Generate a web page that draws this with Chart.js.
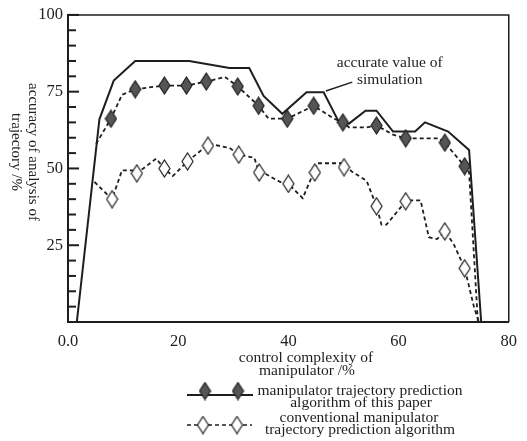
<!DOCTYPE html>
<html>
<head>
<meta charset="utf-8">
<script src="https://cdn.jsdelivr.net/npm/chart.js@4/dist/chart.umd.min.js"></script>
<style>
  body { margin: 0; background: #fff; }
  canvas { display: block; }
</style>
</head>
<body>
<canvas id="chart" width="527" height="441"></canvas>
<script>
// --- Data ---

// accurate value of simulation (solid line)
const accX = [1.6, 5.7, 8.3, 12.2, 22.0, 29.3, 32.9, 35.5, 38.9, 43.3, 46.4, 49.2, 51.0, 54.0, 56.0, 59.0, 63.0, 64.8, 69.0, 72.8, 75.0];
const accY = [0, 66.0, 78.6, 85.0, 85.0, 82.7, 82.7, 73.6, 67.8, 74.8, 74.8, 65.0, 64.6, 68.8, 68.8, 62.0, 62.0, 65.0, 62.0, 56.0, 0];

// algorithm of this paper (dashed line + filled diamonds)
const paperX = [5.1, 7.8, 9.8, 12.2, 17.5, 21.5, 25.1, 28.5, 30.8, 34.6, 36.4, 39.8, 44.6, 48.3, 49.9, 51.0, 54.2, 56.0, 59.0, 61.3, 67.3, 68.4, 72.0, 72.8, 74.4];
const paperY = [58.0, 66.2, 74.0, 75.8, 77.0, 77.0, 78.3, 79.8, 76.7, 70.4, 66.2, 66.2, 70.4, 66.2, 65.0, 63.4, 63.4, 64.0, 61.0, 59.8, 59.8, 58.4, 50.7, 48.8, 0];
const paperMarkX = [7.8, 12.2, 17.5, 21.5, 25.1, 30.8, 34.6, 39.8, 44.6, 49.9, 56.0, 61.3, 68.4, 72.0];
const paperMarkY = [66.2, 75.8, 77.0, 77.0, 78.3, 76.7, 70.4, 66.2, 70.4, 65.0, 64.0, 59.8, 58.4, 50.7];

// conventional algorithm (dashed line + open diamonds)
const convX = [4.8, 8.0, 9.8, 11.6, 12.5, 16.0, 17.5, 19.0, 21.7, 25.6, 29.3, 31.0, 33.8, 34.7, 35.9, 38.5, 40.0, 42.6, 45.3, 50.1, 51.5, 54.2, 56.0, 56.9, 57.8, 61.3, 62.2, 64.0, 65.5, 67.0, 68.4, 70.0, 72.0, 73.7, 74.6];
const convY = [45.6, 40.0, 49.4, 49.4, 48.4, 53.2, 50.0, 47.5, 52.3, 58.0, 56.7, 54.5, 53.5, 48.7, 48.2, 45.6, 45.0, 40.3, 51.7, 51.7, 49.0, 46.0, 37.7, 31.7, 31.7, 39.3, 39.6, 39.6, 27.6, 27.0, 29.5, 25.4, 17.5, 4.8, 0];
const convMarkX = [8.0, 12.5, 17.5, 21.7, 25.4, 31.0, 34.7, 40.0, 44.8, 50.1, 56.0, 61.3, 68.4, 72.0];
const convMarkY = [40.0, 48.4, 50.0, 52.3, 57.4, 54.5, 48.7, 45.0, 48.7, 50.4, 37.7, 39.3, 29.5, 17.5];

// axes
const xTicks = [0, 20, 40, 60, 80];
const yLabelled = [25, 50, 75, 100];

// texts
const yTitle = ['accuracy of analysis of', 'trajectory /%'];
const xTitle = ['control complexity of', 'manipulator /%'];
const legendPaper = ['manipulator trajectory prediction', 'algorithm of this paper'];
const legendConv = ['conventional manipulator', 'trajectory prediction algorithm'];
const noteText = ['accurate value of', 'simulation'];
const notePos = [58.4, 84.4];            // text anchor (data units)
const noteLeader = [[46.8, 75.2], [51.6, 78.1]];

const pts = (xs, ys) => xs.map((x, i) => ({ x: x, y: ys[i] }));

// --- Diamond markers (tall, narrow) ---
function diamond(fill) {
    const c = document.createElement('canvas');
    c.width = 13; c.height = 19;
    const g = c.getContext('2d');
    g.beginPath();
    g.moveTo(6.5, 1); g.lineTo(12, 9.5); g.lineTo(6.5, 18); g.lineTo(1, 9.5);
    g.closePath();
    g.fillStyle = fill; g.fill();
    g.lineWidth = 1.2; g.strokeStyle = '#1e1e1e'; g.stroke();
    return c;
}
const filledDiamond = diamond('#555555');
const openDiamond = diamond('#ffffff');

const SERIF = '"Liberation Serif", "Times New Roman", serif';
const INK = '#1e1e1e';

// --- Extra drawing: frame, inner ticks, titles, note, legend ---
const decor = {
    id: 'decor',
    afterDraw(chart) {
        const { ctx, chartArea: a, scales: { x, y } } = chart;
        ctx.save();
        ctx.strokeStyle = INK;
        ctx.fillStyle = INK;

        // top + right frame
        ctx.lineWidth = 1.5;
        ctx.beginPath();
        ctx.moveTo(a.left, a.top);
        ctx.lineTo(a.right, a.top);
        ctx.lineTo(a.right, a.bottom);
        ctx.stroke();

        // inward y ticks
        ctx.lineWidth = 2;
        y.ticks.forEach(t => {
            const py = y.getPixelForValue(t.value);
            const len = t.value % 25 === 0 ? 11 : 8;
            ctx.beginPath();
            ctx.moveTo(a.left, py);
            ctx.lineTo(a.left + len, py);
            ctx.stroke();
        });

        // y title, rotated clockwise
        ctx.font = '15px ' + SERIF;
        ctx.textAlign = 'center';
        ctx.textBaseline = 'middle';
        ctx.save();
        ctx.translate(33, 152);
        ctx.rotate(Math.PI / 2);
        ctx.fillText(yTitle[0], 0, 0);
        ctx.fillText(yTitle[1], 0, 17);
        ctx.restore();

        // x title
        ctx.font = '15.5px ' + SERIF;
        ctx.fillText(xTitle[0], 306, 358);
        ctx.fillText(xTitle[1], 307, 371);

        // annotation
        ctx.lineWidth = 1.5;
        ctx.beginPath();
        ctx.moveTo(x.getPixelForValue(noteLeader[0][0]), y.getPixelForValue(noteLeader[0][1]));
        ctx.lineTo(x.getPixelForValue(noteLeader[1][0]), y.getPixelForValue(noteLeader[1][1]));
        ctx.stroke();
        const nx = x.getPixelForValue(notePos[0]);
        const ny = y.getPixelForValue(notePos[1]);
        ctx.fillText(noteText[0], nx, ny);
        ctx.fillText(noteText[1], nx, ny + 17);

        // legend
        ctx.fillText(legendPaper[0], 360, 391);
        ctx.fillText(legendPaper[1], 361, 403);
        ctx.fillText(legendConv[0], 359, 418);
        ctx.fillText(legendConv[1], 360, 430);

        ctx.lineWidth = 2;
        ctx.beginPath();
        ctx.moveTo(187, 395); ctx.lineTo(253, 395);
        ctx.stroke();
        [205, 238].forEach(px => ctx.drawImage(filledDiamond, px - 6.5, 391 - 9.5));

        ctx.lineWidth = 1.5;
        ctx.setLineDash([4, 3]);
        ctx.beginPath();
        ctx.moveTo(187, 425); ctx.lineTo(252, 425);
        ctx.stroke();
        ctx.setLineDash([]);
        [203, 237].forEach(px => ctx.drawImage(openDiamond, px - 6.5, 425 - 9.5));

        ctx.restore();
    }
};

new Chart(document.getElementById('chart'), {
    type: 'line',
    data: {
        datasets: [
            {
                label: 'paper markers',
                data: pts(paperMarkX, paperMarkY),
                showLine: false,
                pointStyle: filledDiamond,
                pointRadius: 6,
                order: 0
            },
            {
                label: 'conventional markers',
                data: pts(convMarkX, convMarkY),
                showLine: false,
                pointStyle: openDiamond,
                pointRadius: 6,
                order: 0
            },
            {
                label: 'accurate value of simulation',
                data: pts(accX, accY),
                borderColor: INK,
                borderWidth: 2,
                pointRadius: 0,
                tension: 0,
                order: 1
            },
            {
                label: 'manipulator trajectory prediction algorithm of this paper',
                data: pts(paperX, paperY),
                borderColor: INK,
                borderWidth: 1.8,
                borderDash: [4, 3],
                pointRadius: 0,
                tension: 0,
                order: 1
            },
            {
                label: 'conventional manipulator trajectory prediction algorithm',
                data: pts(convX, convY),
                borderColor: INK,
                borderWidth: 1.8,
                borderDash: [4, 3],
                pointRadius: 0,
                tension: 0,
                order: 1
            }
        ]
    },
    options: {
        responsive: false,
        animation: false,
        layout: { padding: { left: 0, top: 7, right: 11, bottom: 0 } },
        plugins: {
            legend: { display: false },
            tooltip: { enabled: false }
        },
        scales: {
            x: {
                type: 'linear',
                min: 0,
                max: 80,
                afterFit: s => { s.height = 119; },
                afterBuildTicks: s => { s.ticks = xTicks.map(v => ({ value: v })); },
                grid: { display: false, drawTicks: false },
                border: { display: true, width: 2, color: INK },
                ticks: {
                    padding: 10,
                    maxRotation: 0,
                    color: INK,
                    font: { family: SERIF, size: 16.5 },
                    callback: v => v === 0 ? '0.0' : String(v)
                }
            },
            y: {
                type: 'linear',
                min: 0,
                max: 100,
                afterFit: s => { s.width = 68; },
                grid: { display: false, drawTicks: false },
                border: { display: true, width: 2, color: INK },
                ticks: {
                    stepSize: 5,
                    autoSkip: false,
                    padding: 5,
                    color: INK,
                    font: { family: SERIF, size: 16.5 },
                    callback: v => yLabelled.includes(v) ? String(v) : ''
                }
            }
        }
    },
    plugins: [decor]
});
</script>
</body>
</html>
